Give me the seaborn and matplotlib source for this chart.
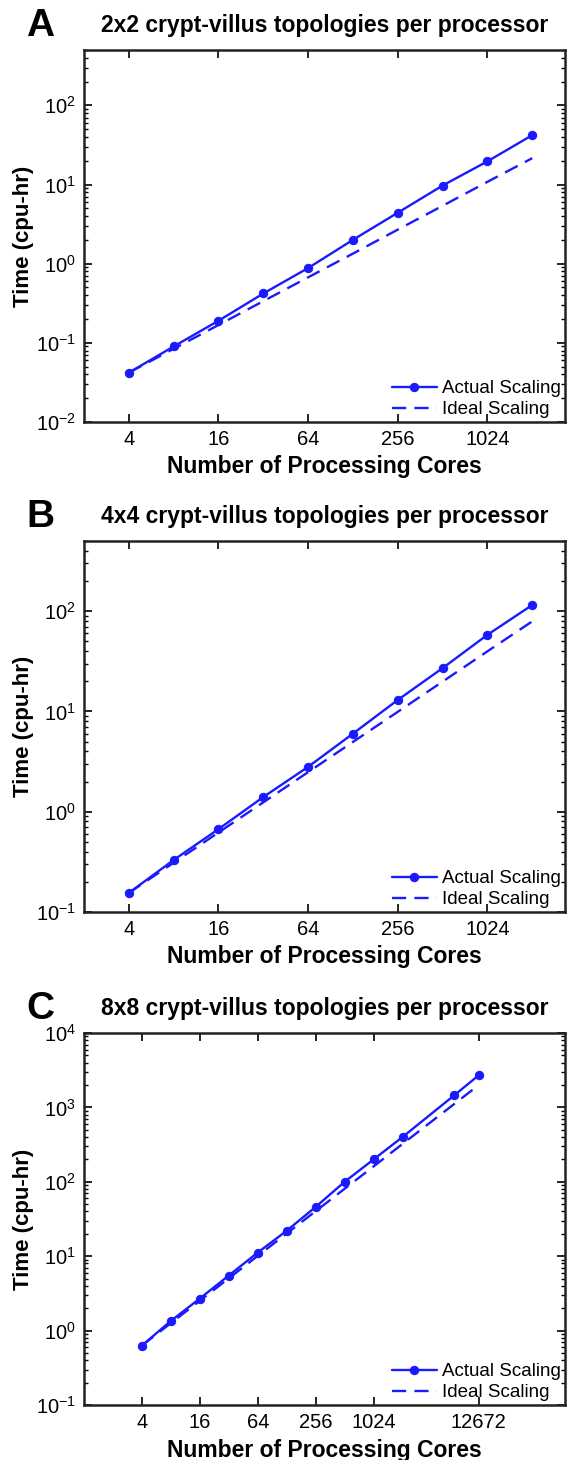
import matplotlib
matplotlib.use('Agg')
import matplotlib.pyplot as plt
import matplotlib.ticker as mticker
import pandas as pd
import seaborn as sns

# ── data ─────────────────────────────────────────────────────
CORES_AB = [4, 8, 16, 32, 64, 128, 256, 512, 1024, 2048]
ACTUAL_A = [0.042, 0.09, 0.19, 0.42, 0.88, 2.0, 4.4, 9.7, 19.6, 42]
IDEAL_A  = [0.042, 0.084, 0.168, 0.336, 0.672, 1.34, 2.69, 5.38, 10.8, 21.5]
ACTUAL_B = [0.155, 0.33, 0.67, 1.4, 2.8, 6.0, 13, 27, 58, 115]
IDEAL_B  = [0.155, 0.31, 0.62, 1.24, 2.48, 4.96, 9.9, 19.8, 39.7, 79]
CORES_C  = [4, 8, 16, 32, 64, 128, 256, 512, 1024, 2048, 7040, 12672]
ACTUAL_C = [0.63, 1.35, 2.7, 5.5, 11.2, 22, 46, 100, 200, 400, 1450, 2700]
IDEAL_C  = [0.63, 1.26, 2.52, 5.04, 10.1, 20.2, 40.3, 80.6, 161, 323, 1109, 1996]

XTICKS_AB = [4, 16, 64, 256, 1024]
XTICKS_C  = [4, 16, 64, 256, 1024, 12672]

PANELS = [
    ('A', '2x2 crypt-villus topologies per processor', CORES_AB, ACTUAL_A, IDEAL_A,
     XTICKS_AB, (2, 3400), (0.01, 500)),
    ('B', '4x4 crypt-villus topologies per processor', CORES_AB, ACTUAL_B, IDEAL_B,
     XTICKS_AB, (2, 3400), (0.1, 500)),
    ('C', '8x8 crypt-villus topologies per processor', CORES_C, ACTUAL_C, IDEAL_C,
     XTICKS_C, (1, 1e5), (0.1, 1e4)),
]

BLUE = '#1a1aff'

sns.set_theme(style='ticks')
plt.rcParams['font.family'] = ['Liberation Sans', 'DejaVu Sans']
plt.rcParams['mathtext.default'] = 'regular'
plt.rcParams['text.color'] = 'black'
plt.rcParams['axes.labelcolor'] = 'black'

W, H = 568, 1460
fig = plt.figure(figsize=(W / 100, H / 100), dpi=100)

# axes boxes in pixels: (left, top, right, bottom)
boxes = [(84, 50, 565, 422), (84, 541, 565, 912), (84, 1033, 565, 1405)]

for (letter, title, cores, actual, ideal, xt, xlim, ylim), (l, t, r, b) in zip(PANELS, boxes):
    ax = fig.add_axes([l / W, 1 - b / H, (r - l) / W, (b - t) / H])
    df = pd.DataFrame({'cores': cores, 'actual': actual, 'ideal': ideal})
    sns.lineplot(data=df, x='cores', y='actual', ax=ax, color=BLUE, lw=1.7,
                 marker='o', markersize=6, markeredgecolor=BLUE,
                 label='Actual Scaling')
    sns.lineplot(data=df, x='cores', y='ideal', ax=ax, color=BLUE, lw=1.7,
                 linestyle=(0, (6, 3.5)), label='Ideal Scaling')
    ax.set_xscale('log')
    ax.set_yscale('log')
    ax.set_xlim(*xlim)
    ax.set_ylim(*ylim)
    ax.set_xticks(xt)
    ax.set_xticklabels([str(v) for v in xt])
    ax.xaxis.set_minor_locator(mticker.NullLocator())
    ax.yaxis.set_major_locator(mticker.LogLocator(base=10))
    ax.yaxis.set_minor_locator(mticker.LogLocator(base=10, subs=range(2, 10)))
    ax.yaxis.set_minor_formatter(mticker.NullFormatter())
    ax.tick_params(which='both', direction='in', top=True, right=True,
                   colors='black', width=1.2, labelsize=14.5, pad=6)
    ax.tick_params(which='major', length=6)
    ax.tick_params(which='minor', length=3, width=1.0)
    for s in ax.spines.values():
        s.set_color('#222222')
        s.set_linewidth(1.8)

    ax.set_xlabel('Number of Processing Cores', fontsize=16.5, fontweight='bold')
    ax.set_ylabel('Time (cpu-hr)', fontsize=16, fontweight='bold')
    ax.xaxis.set_label_coords(0.5, -45 / (b - t))
    ax.xaxis.label.set_va('center')
    ax.yaxis.set_label_coords(-(l - 24) / (r - l), 0.5)
    ax.yaxis.label.set_va('center')

    ax.text(0.5, 1 + 24 / (b - t), title, transform=ax.transAxes, ha='center',
            va='center', fontsize=16.5, fontweight='bold')
    fig.text(40 / W, 1 - (t - 24) / H, letter, ha='center', va='center',
             fontsize=28, fontweight='bold')

    ax.legend(loc='lower right', frameon=False, fontsize=13.5, handlelength=2.4,
              handletextpad=0.3, labelspacing=0.2, borderaxespad=0.05,
              borderpad=0.15)

fig.savefig('out.png', dpi=100)
